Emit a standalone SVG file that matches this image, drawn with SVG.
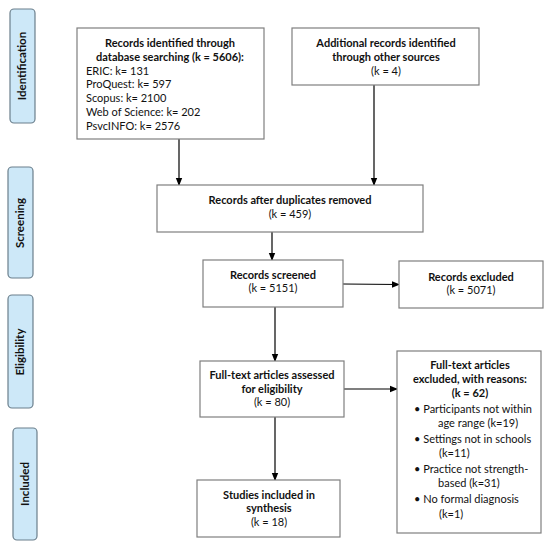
<svg xmlns="http://www.w3.org/2000/svg" width="550" height="548" viewBox="0 0 550 548">
<defs>
<marker id="ah" markerWidth="8" markerHeight="8" refX="7" refY="4" orient="auto" markerUnits="userSpaceOnUse">
<path d="M0,0.8 L8,4 L0,7.2 Z" fill="#000"/>
</marker>
<style>
.box{fill:#fff;stroke:#7f7f7f;stroke-width:1.2}
.side{fill:#cde8f8;stroke:#6b7f8c;stroke-width:1.2}
text{font-family:Lato,"Liberation Sans",sans-serif;font-size:11px;fill:#111}
.b{font-weight:bold}
.c{text-anchor:middle}
.sl{font-weight:bold;font-size:11.5px;text-anchor:middle}
.ln{stroke:#000;stroke-width:1.2;fill:none;marker-end:url(#ah)}
</style>
</defs>
<rect width="550" height="548" fill="#fff"/>
<g id="side-identification"><rect class="side" x="10" y="9" width="25" height="114" rx="4"/><text class="sl" transform="translate(26,66) rotate(-90)">Identification</text></g>
<g id="side-screening"><rect class="side" x="8" y="167" width="25" height="111" rx="4"/><text class="sl" transform="translate(24,223) rotate(-90)">Screening</text></g>
<g id="side-eligibility"><rect class="side" x="8" y="295" width="25" height="113" rx="4"/><text class="sl" transform="translate(24,352) rotate(-90)">Eligibility</text></g>
<g id="side-included"><rect class="side" x="13" y="428" width="24" height="112" rx="4"/><text class="sl" transform="translate(29,484) rotate(-90)">Included</text></g>

<g id="connectors">
<line class="ln" x1="179" y1="139" x2="179" y2="185"/>
<line class="ln" x1="374" y1="85" x2="374" y2="185"/>
<line class="ln" x1="272" y1="232" x2="272" y2="260"/>
<line class="ln" x1="343" y1="284" x2="399" y2="284.5"/>
<line class="ln" x1="275" y1="307" x2="275" y2="361"/>
<line class="ln" x1="344" y1="389" x2="397" y2="389"/>
<line class="ln" x1="275" y1="417" x2="275" y2="480"/>
</g>

<g id="n-database">
<rect class="box" x="77" y="28" width="187" height="111"/>
<text class="b c" x="170" y="47">Records identified through</text>
<text class="b c" x="170" y="61">database searching (k = 5606):</text>
<text x="86" y="75">ERIC: k= 131</text>
<text x="86" y="88">ProQuest: k= 597</text>
<text x="86" y="102">Scopus: k= 2100</text>
<text x="86" y="116">Web of Science: k= 202</text>
<text x="86" y="130">PsvcINFO: k= 2576</text>
</g>
<g id="n-additional">
<rect class="box" x="292" y="28" width="187" height="57"/>
<text class="b c" x="386" y="47">Additional records identified</text>
<text class="b c" x="386" y="61">through other sources</text>
<text class="c" x="386" y="75">(k = 4)</text>
</g>
<g id="n-duplicates">
<rect class="box" x="157" y="185" width="266" height="47"/>
<text class="b c" x="290" y="204">Records after duplicates removed</text>
<text class="c" x="290" y="218">(k = 459)</text>
</g>
<g id="n-screened">
<rect class="box" x="203" y="260" width="140" height="47"/>
<text class="b c" x="273" y="279">Records screened</text>
<text class="c" x="273" y="292">(k = 5151)</text>
</g>
<g id="n-excluded">
<rect class="box" x="399" y="261" width="144" height="47"/>
<text class="b c" x="471" y="281">Records excluded</text>
<text class="c" x="471" y="294">(k = 5071)</text>
</g>
<g id="n-fulltext">
<rect class="box" x="200" y="361" width="144" height="56"/>
<text class="b c" x="272" y="379">Full-text articles assessed</text>
<text class="b c" x="272" y="393">for eligibility</text>
<text class="c" x="272" y="406">(k = 80)</text>
</g>
<g id="n-ft-excluded">
<rect class="box" x="397" y="351" width="144" height="182"/>
<text class="b c" x="470" y="369">Full-text articles</text>
<text class="b c" x="470" y="383">excluded, with reasons:</text>
<text class="b c" x="470" y="397">(k = 62)</text>
<text x="414" y="413">• Participants not within</text>
<text x="438" y="427">age range (k=19)</text>
<text x="414" y="443">• Settings not in schools</text>
<text x="439" y="457">(k=11)</text>
<text x="414" y="473">• Practice not strength-</text>
<text x="438" y="487">based (k=31)</text>
<text x="414" y="503">• No formal diagnosis</text>
<text x="439" y="518">(k=1)</text>
</g>
<g id="n-included">
<rect class="box" x="197" y="480" width="143" height="57"/>
<text class="b c" x="269" y="499">Studies included in</text>
<text class="b c" x="269" y="512">synthesis</text>
<text class="c" x="269" y="526">(k = 18)</text>
</g>
</svg>
